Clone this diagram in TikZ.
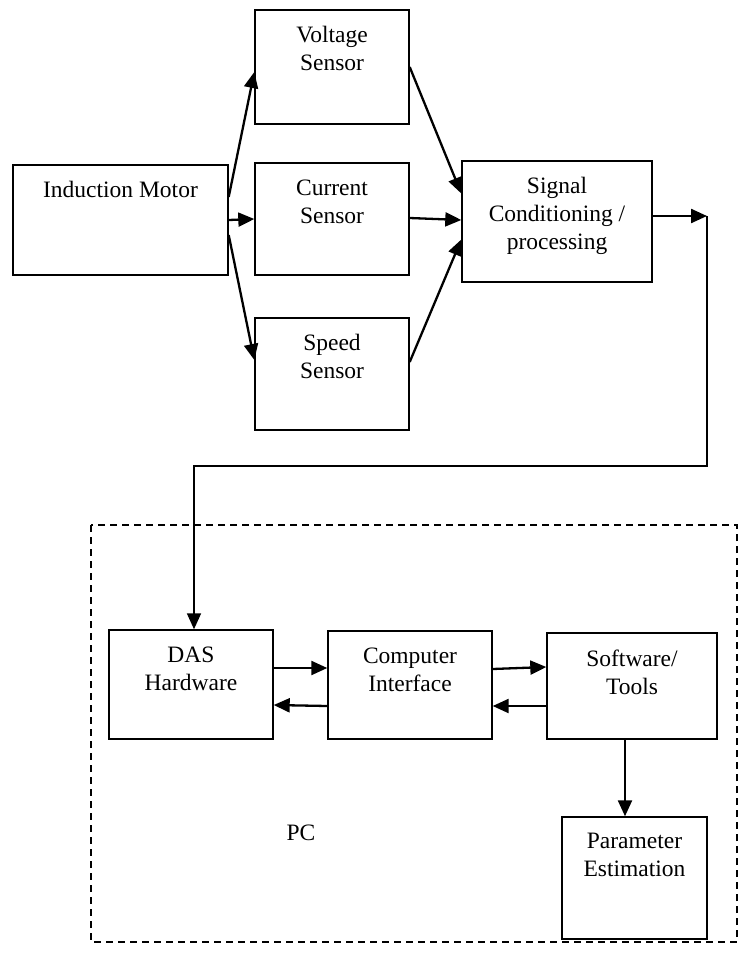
\documentclass[tikz,border=0pt]{standalone}
\usepackage{fontspec}
\setmainfont{Liberation Serif}
\usetikzlibrary{arrows.meta,positioning}
\tikzstyle{every picture}+=[>={Triangle[length=16pt,width=14pt]}]
\tikzstyle{block}=[rectangle,draw=black,line width=1.4pt,inner sep=0pt]
\tikzstyle{caption}=[anchor=north,align=center,inner sep=0pt,yshift=-17pt,
  font=\fontsize{23.5}{28}\selectfont]
\tikzstyle{link}=[line width=2.3pt]

\begin{document}
\begin{tikzpicture}[x=1pt,y=-1pt]
\useasboundingbox (0,0) rectangle (745,971);
%\draw[help lines] (0,0) grid[step=50] (745,971);
\node[block,minimum width=215pt,minimum height=110pt,
  label={[caption]north:Induction Motor}] (motor) at (120.5,220) {};
\node[block,minimum width=154pt,minimum height=114pt,
  label={[caption]north:Voltage\\Sensor}] (volt) at (332,67) {};
\node[block,minimum width=154pt,minimum height=112pt,
  label={[caption]north:Current\\Sensor}] (curr) at (332,219) {};
\node[block,minimum width=154pt,minimum height=112pt,
  label={[caption]north:Speed\\Sensor}] (speed) at (332,374) {};
\node[block,minimum width=190pt,minimum height=121pt,
  label={[caption]north:Signal\\Conditioning /\\processing}] (sig) at (557,221.5) {};
\coordinate (turn) at (707,216);

% PC part
\draw[dashed,line width=1.3pt,dash pattern=on 7pt off 5pt] (91,525) rectangle (737,942);
\node[block,minimum width=164pt,minimum height=109pt,
  label={[caption]north:DAS\\Hardware}] (das) at (191,684.5) {};
\node[block,minimum width=164pt,minimum height=108pt,
  label={[caption]north:Computer\\Interface}] (ci) at (410,685) {};
\node[block,minimum width=170pt,minimum height=106pt,
  label={[caption]north:Software/\\Tools}] (sw) at (632,686) {};
\node[block,minimum width=145pt,minimum height=122pt,
  label={[caption]north:Parameter\\Estimation}] (pe) at (634.5,878) {};
\node[font=\fontsize{23.5}{28}\selectfont] (pc) at (301,833) {PC};

\path[->,link] ([yshift=23pt]motor.east) edge ([yshift=-5pt]volt.west)
               (motor.east) edge (curr.west)
               ([yshift=-15pt]motor.east) edge ([yshift=14pt]speed.west)
               (volt.east) edge ([yshift=28pt]sig.west)
               ([yshift=1pt]curr.east) edge ([yshift=1.5pt]sig.west)
               ([yshift=12pt]speed.east) edge ([yshift=-18pt]sig.west)
               ([yshift=5.5pt]sig.east) edge (turn);
\draw[->,line width=1.7pt] (turn) -- ++(0,250) -| ([xshift=3pt]das.north);
\path[->,link] ([yshift=16.5pt]das.east) edge ([yshift=17pt]ci.west)
               ([yshift=-21pt]ci.west) edge ([yshift=-20.5pt]das.east)
               ([yshift=16pt]ci.east) edge ([yshift=19pt]sw.west)
               ([yshift=-20pt]sw.west) edge ([yshift=-21pt]ci.east)
               ([xshift=-7pt]sw.south) edge ([xshift=-7pt]sw.south |- pe.north);
\end{tikzpicture}
\end{document}
